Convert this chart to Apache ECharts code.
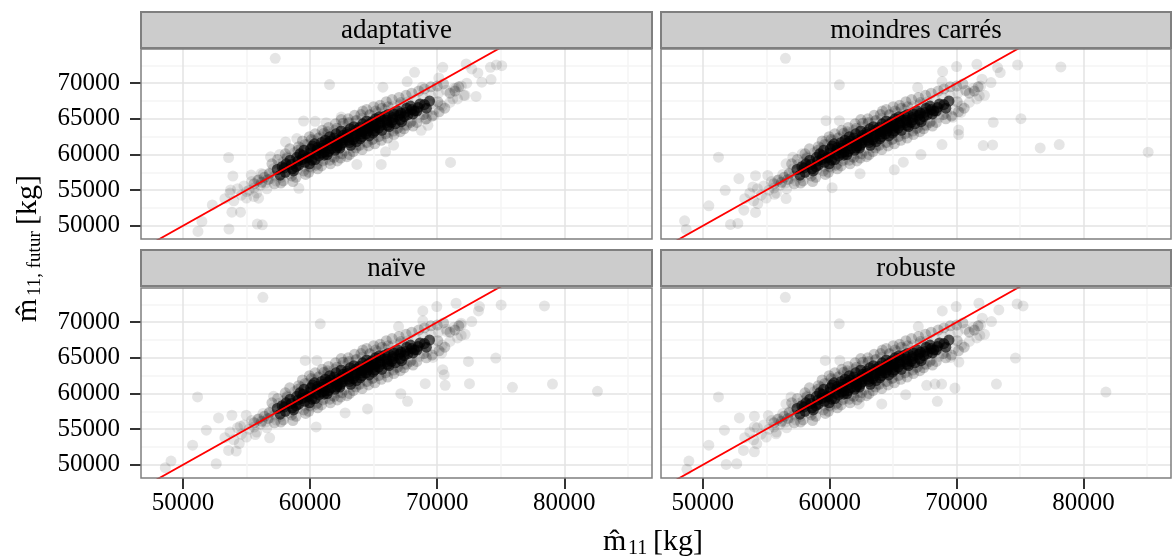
<!DOCTYPE html>
<html>
<head>
<meta charset="utf-8">
<script src="https://cdn.jsdelivr.net/npm/echarts@6/dist/echarts.min.js"></script>
<style>
  html, body { margin: 0; padding: 0; background: #fff; }
  #chart { width: 1172px; height: 560px; }
</style>
</head>
<body>
<div id="chart"></div>
<script>
// facettes
const categories = ['adaptative', 'moindres carrés', 'naïve', 'robuste']
const xTicks = [50000, 60000, 70000, 80000]
const yTicks = [50000, 55000, 60000, 65000, 70000]
const xMinor = [55000, 65000, 75000, 85000]
const yMinor = [52500, 57500, 62500, 67500, 72500]
const xRange = [46700, 86900]
const yRange = [48150, 74800]
// droite y = x
const droite = [[40000, 40000], [90000, 90000]]

// nuage dense commun aux quatre méthodes
const noyau = [
  [57420, 57900], [57650, 57100], [57800, 58300],
  [58050, 57500], [58120, 58700], [57960, 58100],
  [58430, 59200], [58600, 58000], [58520, 58600], [58700, 57700],
  [58950, 59600], [59100, 58500], [59050, 59100], [59200, 60100], [58900, 58300],
  [59450, 59900], [59600, 58900], [59520, 60600], [59380, 59300], [59700, 59500],
  [60050, 60800], [59900, 59600], [60150, 59200], [60000, 60200], [60200, 61200], [59950, 58700],
  [60450, 60000], [60600, 61000], [60400, 59300], [60550, 60600], [60700, 59800], [60350, 61500],
  [61000, 60900], [61100, 59900], [60900, 61700], [61150, 60400], [61050, 61300], [60950, 60200], [61200, 62000],
  [61500, 61200], [61450, 60400], [61600, 61900], [61400, 61600], [61650, 60800], [61550, 62500], [61350, 60000],
  [62000, 61600], [62100, 60900], [61900, 62300], [62050, 62900], [62150, 61200], [61950, 60600], [62200, 62000],
  [62500, 62000], [62400, 61300], [62600, 62700], [62550, 61600], [62450, 63300], [62650, 62300], [62350, 60900],
  [63000, 62400], [63100, 61700], [62900, 63100], [63050, 62000], [63150, 63600], [62950, 62800], [63200, 61300],
  [63500, 62800], [63400, 62100], [63600, 63400], [63550, 62500], [63450, 63900], [63650, 61800], [63700, 63100],
  [64000, 63200], [64100, 62500], [63900, 63800], [64050, 62900], [64150, 64300], [63950, 62200], [64200, 63500],
  [64500, 63600], [64400, 62900], [64600, 64200], [64550, 63300], [64450, 64700], [64650, 62600], [64700, 63900],
  [65000, 64000], [65100, 63300], [64900, 64600], [65050, 63700], [65150, 65000], [64950, 63000], [65200, 64300],
  [65500, 64400], [65400, 63700], [65600, 65000], [65550, 64100], [65450, 65300], [65650, 63400],
  [66000, 64800], [66100, 64100], [65900, 65400], [66050, 64500], [66150, 65600], [66200, 63900],
  [66500, 65200], [66400, 64500], [66600, 65700], [66550, 64900], [66700, 64300],
  [67000, 65500], [67100, 64900], [66900, 66100], [67150, 65800], [67200, 64600],
  [67500, 65900], [67400, 65300], [67600, 66500], [67700, 65600],
  [68000, 66300], [68100, 65700], [67900, 66800], [68200, 66100],
  [68500, 66600], [68400, 66100], [68650, 67100],
  [69000, 67000], [69150, 66500],
  [69400, 67500]
]

// bordure du nuage dense (commune)
const bordure = [
  [55600, 55900], [55900, 56400], [56200, 56100], [56400, 56800], [56700, 56500], [56800, 57300],
  [57000, 58700], [57200, 55900], [57450, 59300], [57700, 56000],
  [58050, 60100], [57900, 56300], [58200, 59500], [58400, 60800], [58650, 56200], [58550, 57000],
  [59100, 61100], [58900, 56800], [59050, 60600], [59400, 61900], [59650, 57200], [59500, 57700], [59600, 61400],
  [60100, 62100], [59900, 57500], [60000, 58300], [59950, 62500], [60400, 62900], [60600, 58000], [60500, 58500], [60650, 62300],
  [61100, 63000], [60900, 58400], [61000, 59100], [60950, 63400], [61450, 63800], [61600, 58700], [61550, 59200], [61400, 63200],
  [62000, 64300], [62150, 59100], [61900, 59600], [62100, 63700], [62600, 64400], [62400, 59500], [62500, 60100], [62450, 64900],
  [63000, 65000], [63100, 60000], [62900, 59700], [63050, 64500], [63500, 65500], [63400, 60400], [63600, 60900], [63650, 64800],
  [64000, 65600], [64100, 60700], [63900, 61300], [64150, 66100], [64450, 66300], [64600, 61200], [64500, 61700], [64700, 65600],
  [65000, 66700], [65100, 61500], [64900, 62100], [65150, 66100], [65500, 66900], [65600, 62000], [65400, 62500], [65650, 66500],
  [66000, 67400], [66100, 62300], [65950, 62900], [66150, 66700], [66450, 67700], [66600, 62800], [66550, 63300],
  [67000, 68000], [67100, 63200], [66900, 63700], [67150, 67300], [67550, 68300], [67400, 63600], [67600, 64100],
  [68000, 68600], [68100, 64000], [67900, 64500], [68550, 68900], [68400, 64500],
  [69000, 69200], [69150, 65000], [68950, 65600], [69500, 69500], [69600, 65400],
  [70000, 69600], [70150, 66000], [70050, 67400], [70500, 69900], [70600, 66500],
  [71000, 68600], [71400, 68900], [71700, 69500]
]

// points plus épars autour du nuage (communs)
const halo = [
  [53300, 53800], [53700, 54600], [54000, 53500], [54300, 55200], [54600, 54300], [54800, 55600],
  [55000, 53900], [55200, 55000], [55400, 56200], [55600, 55300], [55800, 54600], [56000, 56500],
  [56100, 55700], [56300, 57200], [56500, 56000], [56600, 55200], [56800, 57400], [56900, 56600],
  [57100, 58000], [57200, 57000], [57300, 56300], [57500, 58600], [57700, 56800], [57900, 59000],
  [58200, 59700], [58400, 57300], [58800, 60300], [59000, 57900], [59300, 60900], [59600, 58300],
  [59800, 61400], [60100, 58100], [60300, 62000], [60600, 58700], [60800, 62500], [61200, 59300],
  [61400, 62900], [61700, 59700], [61900, 63400], [62200, 60100], [62500, 63900], [62700, 60500],
  [63000, 64300], [63300, 60900], [63600, 64700], [63800, 61300], [64100, 65100], [64400, 61700],
  [64700, 65500], [65000, 62200], [65300, 65900], [65600, 62600], [65900, 66300], [66200, 63100],
  [66500, 66700], [66800, 63600], [67100, 67000], [67400, 64100], [67700, 67400], [68000, 64700],
  [68300, 67700], [68600, 65200], [68900, 68000], [69200, 65800], [69500, 68300], [69800, 66300],
  [70100, 68600], [70400, 66800], [70700, 69000], [71000, 67300], [71300, 69300], [71600, 67800],
  [71900, 69600], [72200, 68300]
]

// points isolés propres à chaque méthode
const adaptative = [
  [57260, 73490], [61530, 69810], [53590, 59580], [53930, 56980], [53750, 55030], [52310, 52930],
  [53850, 51910], [54530, 51910], [51490, 50610], [51180, 49210], [53620, 49540], [55850, 50240],
  [56240, 50140], [55370, 57120], [56160, 57350], [56890, 59680], [57600, 60000], [58070, 61770],
  [58960, 62240], [59490, 64700], [60400, 64650], [61270, 64470], [62450, 65250], [59120, 55260],
  [55950, 53870], [55580, 54100], [55010, 54800], [63680, 58610], [65600, 58610], [65940, 60380],
  [66570, 61310], [68740, 63400], [71050, 58890], [65730, 69440], [67640, 70230], [68220, 71530],
  [68820, 69440], [70130, 70740], [70440, 72230], [72280, 72700], [72720, 72000], [73200, 71440],
  [74190, 72230], [74660, 72560], [75080, 72460], [74240, 70510], [73510, 70140], [72330, 70000],
  [72100, 68280], [73060, 68140], [71490, 69300], [71230, 67820], [70260, 66980], [69530, 67120],
  [69740, 65490], [69060, 64930], [69270, 64100]
]
const moindresCarres = [
  [56510, 73490], [60760, 69770], [51230, 59630], [48560, 50700], [48690, 49490], [50470, 52800],
  [51760, 54980], [52840, 56610], [52180, 50190], [52760, 50330], [53230, 52190], [54150, 51870],
  [54330, 53120], [53940, 55450], [54150, 57030], [55120, 57070], [55640, 54420], [56560, 53820],
  [56560, 58700], [57090, 59630], [57820, 60100], [59710, 61960], [59710, 64750], [60760, 64750],
  [60190, 55350], [62390, 57310], [65090, 57860], [65800, 58930], [67190, 60000], [68850, 61400],
  [70160, 62790], [70160, 63440], [69690, 65210], [72890, 64510], [75070, 65020], [72100, 61260],
  [72840, 61350], [76590, 60930], [78090, 61400], [85100, 60330], [78220, 72280], [74810, 72560],
  [73230, 72190], [73440, 71490], [71600, 72650], [70000, 72330], [68900, 71630], [68850, 70230],
  [66930, 69400], [72000, 70560], [72710, 70090], [71790, 68230], [70740, 68930], [70340, 65910]
]
const naive = [
  [56290, 73500], [60800, 69770], [51150, 59520], [48610, 49590], [49060, 50520], [50760, 52760],
  [51840, 54860], [52800, 56580], [52620, 50150], [53590, 52010], [54190, 51920], [54430, 52990],
  [53850, 56950], [54980, 56950], [54510, 55410], [55690, 54250], [56820, 53780], [57130, 59610],
  [59620, 64640], [60540, 64640], [60480, 55320], [62760, 57280], [64520, 57840], [67670, 58910],
  [67140, 59980], [69060, 61380], [70630, 61150], [72540, 61380], [75920, 60870], [79070, 61330],
  [82610, 60310], [72460, 64500], [74610, 64970], [70440, 63340], [70550, 62640], [69660, 65060],
  [70360, 65670], [78440, 72280], [75030, 72420], [73250, 71580], [73330, 72190], [71490, 72660],
  [69970, 72190], [68870, 71580], [68870, 70190], [66960, 69390], [71890, 69860], [72720, 70090],
  [71890, 68140], [70760, 68700]
]
const robuste = [
  [56500, 73500], [60750, 69770], [51230, 59520], [48900, 50520], [48740, 49360], [50470, 52760],
  [51700, 54860], [52880, 56580], [51840, 50060], [52670, 50150], [53200, 52010], [54060, 51830],
  [54250, 52940], [54060, 55320], [54060, 56810], [55160, 56910], [55770, 54340], [56550, 58540],
  [56950, 59520], [59650, 64640], [60800, 64640], [62320, 58540], [64100, 58540], [65990, 59840],
  [67640, 61150], [68480, 58910], [68820, 61330], [69870, 60770], [70180, 64410], [69530, 65060],
  [73140, 61330], [74640, 64970], [81770, 60210], [74770, 72560], [75240, 72280], [73330, 71720],
  [71760, 72660], [69970, 72190], [68870, 71580], [72020, 70560], [72750, 70090], [71830, 68140],
  [66980, 69390], [68300, 61330]
]
const isoles = [adaptative, moindresCarres, naive, robuste]

const police = 'Liberation Serif, Times New Roman, serif'
const panneaux = [
  { left: 141, top: 49, width: 511, height: 190 },
  { left: 661, top: 49, width: 510, height: 190 },
  { left: 141, top: 288, width: 511, height: 190 },
  { left: 661, top: 288, width: 510, height: 190 }
]

const grid = panneaux.map(p => ({ ...p, show: false }))

const xAxis = []
const yAxis = []
// axes des lignes mineures
panneaux.forEach((p, i) => {
  xAxis.push({
    type: 'value', gridIndex: i, position: 'bottom', min: xRange[0], max: xRange[1],
    axisLine: { show: false }, axisLabel: { show: false },
    axisTick: { show: false, customValues: xMinor },
    splitLine: { show: true, lineStyle: { color: '#F4F4F4', width: 1.5 } }
  })
  yAxis.push({
    type: 'value', gridIndex: i, position: 'left', min: yRange[0], max: yRange[1],
    axisLine: { show: false }, axisLabel: { show: false },
    axisTick: { show: false, customValues: yMinor },
    splitLine: { show: true, lineStyle: { color: '#F4F4F4', width: 1.5 } }
  })
})
// axes principaux
panneaux.forEach((p, i) => {
  const bas = i >= 2
  const gauche = i % 2 === 0
  xAxis.push({
    type: 'value', gridIndex: i, position: 'bottom', min: xRange[0], max: xRange[1],
    axisLine: { show: false },
    axisTick: { show: bas, length: 11, customValues: xTicks, lineStyle: { color: '#333', width: 2 } },
    axisLabel: {
      show: bas, customValues: xTicks, margin: 13, color: '#000', fontFamily: police, fontSize: 25,
      formatter: v => String(v)
    },
    splitLine: { show: true, lineStyle: { color: '#E3E3E3', width: 1.5 } }
  })
  yAxis.push({
    type: 'value', gridIndex: i, position: 'left', min: yRange[0], max: yRange[1],
    axisLine: { show: false },
    axisTick: { show: gauche, length: 11, customValues: yTicks, lineStyle: { color: '#333', width: 2 } },
    axisLabel: {
      show: gauche, customValues: yTicks, margin: 21, color: '#000', fontFamily: police, fontSize: 25,
      formatter: v => String(v)
    },
    splitLine: { show: true, lineStyle: { color: '#E3E3E3', width: 1.5 } }
  })
})

const series = []
panneaux.forEach((p, i) => {
  const axes = { xAxisIndex: i + 4, yAxisIndex: i + 4 }
  series.push({ type: 'scatter', ...axes, data: halo, symbolSize: 11, itemStyle: { color: 'rgba(0,0,0,0.13)' } })
  series.push({ type: 'scatter', ...axes, data: isoles[i], symbolSize: 11, itemStyle: { color: 'rgba(0,0,0,0.13)' } })
  series.push({ type: 'scatter', ...axes, data: bordure, symbolSize: 11, itemStyle: { color: 'rgba(0,0,0,0.25)' } })
  series.push({ type: 'scatter', ...axes, data: noyau, symbolSize: 11, itemStyle: { color: 'rgba(0,0,0,0.8)' } })
  series.push({
    type: 'line', ...axes, data: droite, showSymbol: false, symbol: 'none', clip: true,
    lineStyle: { color: '#FF0000', width: 1.8 }, z: 5
  })
})

const graphic = []
panneaux.forEach((p, i) => {
  const haut = i < 2 ? 12 : 250
  graphic.push({
    type: 'rect', z: 20,
    shape: { x: p.left, y: haut, width: p.width, height: 36 },
    style: { fill: '#CCCCCC', stroke: '#7F7F7F', lineWidth: 2 }
  })
  graphic.push({
    type: 'text', z: 21, x: p.left + p.width / 2, y: haut + 19,
    style: {
      text: categories[i], fill: '#000', fontFamily: police, fontSize: 27,
      align: 'center', verticalAlign: 'middle', textAlign: 'center', textVerticalAlign: 'middle'
    }
  })
  graphic.push({
    type: 'rect', z: 20,
    shape: { x: p.left, y: p.top, width: p.width, height: p.height },
    style: { fill: 'none', stroke: '#7F7F7F', lineWidth: 1.5 }
  })
})

const txt = (text, x, y, size) => ({
  type: 'text', x, y, z: 21,
  style: {
    text, fill: '#000', fontFamily: police, fontSize: size,
    align: 'left', verticalAlign: 'middle', textAlign: 'left', textVerticalAlign: 'middle'
  }
})
// titre de l'axe x
graphic.push(txt('m\u0302', 603, 542, 30))
graphic.push(txt('11', 628, 549, 20))
graphic.push(txt('[kg]', 653, 542, 30))
// titre de l'axe y
graphic.push({
  type: 'group', x: 28, y: 252, rotation: Math.PI / 2,
  children: [
    txt('m\u0302', -70, 0, 30),
    txt('11, futur', -44, 7, 19),
    txt('[kg]', 27, 0, 30)
  ]
})

const chart = echarts.init(document.getElementById('chart'))
chart.setOption({
  backgroundColor: '#FFFFFF',
  animation: false,
  grid,
  xAxis,
  yAxis,
  series,
  graphic
})
</script>
</body>
</html>
